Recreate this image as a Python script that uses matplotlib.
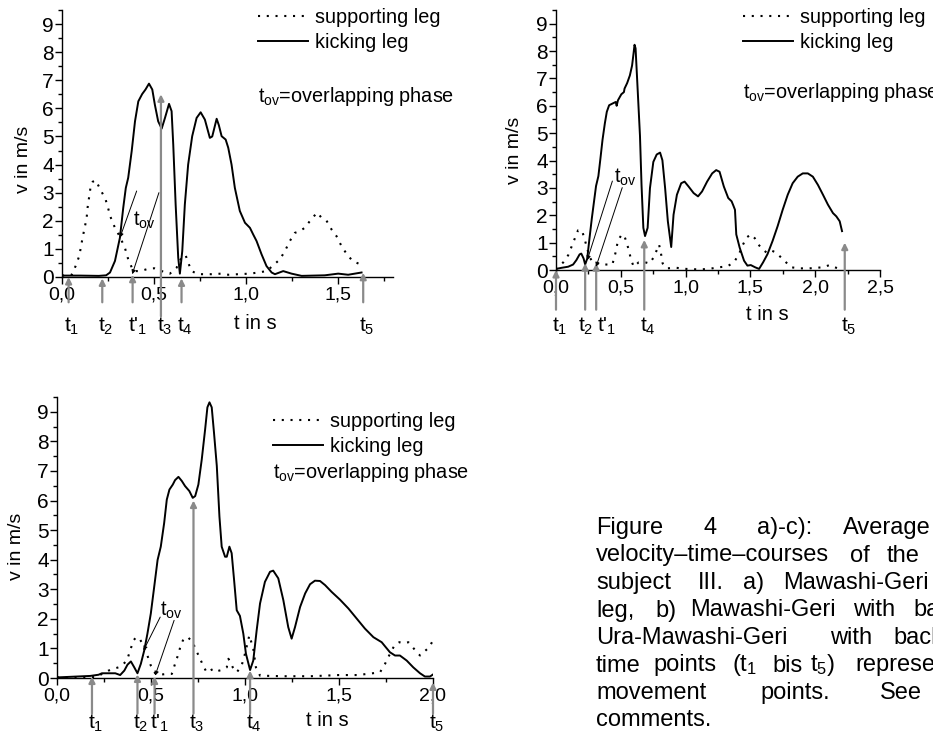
import matplotlib
matplotlib.use("Agg")
import matplotlib.pyplot as plt
from matplotlib.ticker import MultipleLocator, FuncFormatter

plt.rcParams["font.family"] = ["Liberation Sans", "DejaVu Sans"]
plt.rcParams["mathtext.fontset"] = "custom"
plt.rcParams["mathtext.rm"] = "Liberation Sans"
plt.rcParams["mathtext.default"] = "regular"

# ---- panel a) Mawashi-Geri, front leg ----
a_kick_t = [0.0, 0.1, 0.2, 0.24, 0.261, 0.288, 0.315, 0.333, 0.347, 0.36, 0.379, 0.397, 0.415,
            0.436, 0.454, 0.473, 0.491, 0.505, 0.523, 0.542, 0.56, 0.582, 0.596, 0.605, 0.618,
            0.632, 0.641, 0.654, 0.668, 0.686, 0.708, 0.732, 0.754, 0.777, 0.804, 0.817, 0.841,
            0.853, 0.868, 0.89, 0.904, 0.922, 0.94, 0.967, 0.995, 1.022, 1.04, 1.058, 1.085,
            1.112, 1.14, 1.158, 1.203, 1.248, 1.303, 1.429, 1.502, 1.556, 1.629]
a_kick_v = [0.05, 0.05, 0.04, 0.06, 0.16, 0.57, 1.4, 2.46, 3.17, 3.53, 4.48, 5.54, 6.25,
            6.51, 6.67, 6.88, 6.67, 6.13, 5.54, 5.28, 5.66, 6.16, 5.9, 4.71, 2.58,
            0.69, 0.12, 0.92, 2.58, 4.0, 5.01, 5.66, 5.86, 5.6, 4.95, 5.0, 5.63,
            5.4, 5.01, 4.89, 4.6, 4.0, 3.17, 2.35, 1.93, 1.75, 1.51, 1.28, 0.81,
            0.39, 0.16, 0.1, 0.21, 0.12, 0.04, 0.06, 0.12, 0.08, 0.16]
a_sup_t = [0.0, 0.03, 0.053, 0.074, 0.094, 0.112, 0.125, 0.134, 0.139, 0.147, 0.156, 0.167,
           0.183, 0.21, 0.237, 0.266, 0.288, 0.315, 0.342, 0.36, 0.388, 0.415, 0.442, 0.473,
           0.502, 0.542, 0.587, 0.623, 0.65, 0.672, 0.686, 0.705, 0.74, 0.813, 0.868, 0.904,
           0.958, 1.022, 1.067, 1.112, 1.145, 1.185, 1.212, 1.239, 1.266, 1.293, 1.32, 1.348,
           1.371, 1.388, 1.411, 1.438, 1.466, 1.493, 1.52, 1.547, 1.58, 1.629]
a_sup_v = [0.05, 0.06, 0.08, 0.39, 0.75, 1.4, 1.81, 2.1, 2.46, 2.82, 3.23, 3.39,
           3.44, 3.1, 2.76, 2.1, 1.75, 1.43, 1.04, 0.63, 0.21, 0.21, 0.24, 0.3,
           0.31, 0.21, 0.12, 0.33, 0.69, 0.78, 0.51, 0.21, 0.1, 0.1, 0.12, 0.08,
           0.1, 0.12, 0.16, 0.21, 0.39, 0.63, 0.92, 1.28, 1.57, 1.63, 1.75, 1.99,
           2.17, 2.29, 2.11, 2.01, 1.69, 1.45, 1.1, 0.83, 0.57, 0.43]
a_marks = ["t$_1$", "t$_2$", "t'$_1$", "t$_3$", "t$_4$", "t$_5$"]
a_mark_t = [0.036, 0.219, 0.384, 0.538, 0.65, 1.638]
a_mark_tip = [0.0, -0.05, 0.08, 6.5, -0.05, 0.15]

# ---- panel b) Mawashi-Geri, back leg ----
b_kick_t = [0.0, 0.043, 0.094, 0.132, 0.157, 0.182, 0.195, 0.213, 0.225, 0.241, 0.258, 0.276,
            0.296, 0.309, 0.327, 0.342, 0.359, 0.377, 0.392, 0.41, 0.435, 0.461, 0.468, 0.478,
            0.504, 0.524, 0.529, 0.549, 0.57, 0.587, 0.598, 0.606, 0.614, 0.63, 0.648, 0.66,
            0.674, 0.687, 0.707, 0.725, 0.751, 0.777, 0.803, 0.821, 0.842, 0.863, 0.889, 0.907,
            0.933, 0.966, 0.992, 1.023, 1.062, 1.096, 1.127, 1.166, 1.205, 1.236, 1.262, 1.295,
            1.329, 1.355, 1.368, 1.381, 1.391, 1.417, 1.451, 1.477, 1.503, 1.536, 1.567, 1.598,
            1.632, 1.671, 1.71, 1.749, 1.788, 1.826, 1.865, 1.904, 1.943, 1.982, 2.021, 2.06,
            2.098, 2.137, 2.163, 2.189, 2.207]
b_kick_v = [0.04, 0.08, 0.12, 0.2, 0.36, 0.57, 0.6, 0.42, 0.2, 0.42, 1.14, 1.87,
            2.6, 3.07, 3.43, 4.04, 4.76, 5.36, 5.78, 6.02, 6.08, 6.14, 6.0, 6.2,
            6.42, 6.5, 6.63, 6.83, 7.11, 7.47, 7.9, 8.23, 8.1, 6.6, 4.9, 3.1,
            1.54, 1.24, 1.54, 2.99, 3.95, 4.22, 4.29, 4.01, 2.99, 1.78, 0.84, 2.02,
            2.75, 3.17, 3.23, 3.05, 2.81, 2.69, 2.87, 3.23, 3.53, 3.65, 3.59, 3.05,
            2.63, 2.51, 2.36, 2.2, 1.3, 0.82, 0.34, 0.16, 0.18, 0.1, 0.04, 0.28,
            0.58, 1.06, 1.6, 2.2, 2.75, 3.17, 3.41, 3.53, 3.53, 3.41, 3.11, 2.75,
            2.39, 2.08, 1.96, 1.78, 1.42]
b_sup_t = [0.0, 0.056, 0.094, 0.124, 0.144, 0.17, 0.2, 0.22, 0.241, 0.258, 0.284, 0.322,
           0.367, 0.41, 0.435, 0.461, 0.478, 0.504, 0.524, 0.544, 0.562, 0.58, 0.6, 0.638,
           0.671, 0.722, 0.752, 0.777, 0.795, 0.808, 0.823, 0.853, 0.929, 1.005, 1.106, 1.179,
           1.256, 1.321, 1.373, 1.412, 1.438, 1.469, 1.503, 1.534, 1.56, 1.593, 1.624, 1.658,
           1.697, 1.736, 1.775, 1.813, 1.878, 1.956, 2.06, 2.111, 2.15, 2.189]
b_sup_v = [0.02, 0.28, 0.54, 0.9, 1.14, 1.45, 1.45, 1.14, 0.78, 0.48, 0.28, 0.24,
           0.2, 0.2, 0.2, 0.66, 1.08, 1.27, 1.29, 1.02, 0.72, 0.36, 0.12, 0.28,
           0.3, 0.24, 0.45, 0.72, 0.93, 0.66, 0.24, 0.06, 0.08, 0.04, 0.02, 0.04,
           0.1, 0.13, 0.28, 0.58, 0.88, 1.18, 1.3, 1.16, 0.94, 0.76, 0.64, 0.72,
           0.64, 0.46, 0.28, 0.1, 0.06, 0.06, 0.1, 0.18, 0.1, 0.04]
b_marks = ["t$_1$", "t$_2$", "t'$_1$", "t$_4$", "t$_5$"]
b_mark_t = [0.0, 0.225, 0.31, 0.681, 2.228]
b_mark_tip = [0.0, 0.25, 0.25, 1.1, 1.0]

# ---- panel c) Ura-Mawashi-Geri, back leg ----
c_kick_t = [0.0, 0.106, 0.177, 0.221, 0.239, 0.274, 0.31, 0.336, 0.358, 0.375, 0.393, 0.411,
            0.428, 0.446, 0.464, 0.481, 0.499, 0.517, 0.535, 0.552, 0.57, 0.584, 0.598, 0.616,
            0.628, 0.646, 0.664, 0.681, 0.704, 0.722, 0.735, 0.752, 0.77, 0.788, 0.8, 0.811,
            0.823, 0.835, 0.85, 0.864, 0.876, 0.894, 0.903, 0.917, 0.929, 0.942, 0.956, 0.973,
            0.991, 1.005, 1.027, 1.044, 1.062, 1.08, 1.106, 1.133, 1.15, 1.177, 1.204, 1.23,
            1.248, 1.266, 1.293, 1.32, 1.346, 1.372, 1.399, 1.426, 1.461, 1.505, 1.55, 1.594,
            1.638, 1.683, 1.727, 1.745, 1.771, 1.798, 1.824, 1.86, 1.895, 1.931, 1.957, 1.984,
            2.005]
c_kick_v = [0.02, 0.05, 0.07, 0.11, 0.16, 0.16, 0.16, 0.1, 0.25, 0.45, 0.56, 0.36,
            0.16, 0.48, 0.93, 1.5, 2.18, 3.08, 3.99, 4.44, 5.24, 6.03, 6.37, 6.54,
            6.69, 6.8, 6.66, 6.49, 6.32, 6.09, 6.15, 6.54, 7.39, 8.41, 9.15, 9.32,
            9.15, 8.3, 7.17, 5.46, 4.44, 4.1, 4.1, 4.44, 4.22, 3.31, 2.29, 2.1,
            1.5, 0.82, 0.27, 0.59, 1.61, 2.52, 3.25, 3.59, 3.63, 3.37, 2.63, 1.72,
            1.33, 1.72, 2.4, 2.86, 3.17, 3.29, 3.28, 3.14, 2.91, 2.65, 2.35, 2.01,
            1.67, 1.38, 1.21, 1.07, 0.87, 0.76, 0.76, 0.59, 0.36, 0.16, 0.05, 0.05,
            0.14]
c_sup_t = [0.0, 0.2, 0.221, 0.248, 0.274, 0.3, 0.327, 0.354, 0.372, 0.389, 0.407, 0.421,
           0.439, 0.46, 0.481, 0.499, 0.522, 0.549, 0.584, 0.611, 0.628, 0.646, 0.658, 0.676,
           0.699, 0.722, 0.74, 0.758, 0.775, 0.796, 0.814, 0.832, 0.85, 0.876, 0.903, 0.912,
           0.935, 0.956, 0.982, 1.0, 1.023, 1.044, 1.058, 1.08, 1.2, 1.35, 1.5, 1.6,
           1.718, 1.745, 1.762, 1.78, 1.798, 1.821, 1.851, 1.869, 1.904, 1.931, 1.957, 1.98,
           1.998]
c_sup_v = [0.02, 0.03, 0.08, 0.16, 0.25, 0.31, 0.36, 0.48, 0.59, 0.93, 1.27, 1.38,
           1.33, 1.1, 0.76, 0.42, 0.16, 0.11, 0.14, 0.14, 0.48, 0.82, 1.1, 1.36,
           1.36, 1.21, 0.93, 0.7, 0.45, 0.19, 0.25, 0.31, 0.23, 0.27, 0.36, 0.65,
           0.36, 0.19, 0.42, 0.82, 1.44, 0.99, 0.36, 0.08, 0.06, 0.06, 0.1, 0.1,
           0.19, 0.48, 0.7, 0.93, 1.13, 1.21, 1.18, 1.21, 0.95, 0.76, 0.91, 1.04,
           1.25]
c_marks = ["t$_1$", "t$_2$", "t'$_1$", "t$_3$", "t$_4$", "t$_5$"]
c_mark_t = [0.186, 0.428, 0.519, 0.726, 1.027, 2.0]
c_mark_tip = [0.05, 0.12, 0.05, 6.0, 0.25, -0.15]

legend_labels = ["supporting leg", "kicking leg"]
tov_label = "t$_{ov}$=overlapping phase"

# caption words are cut at the right edge, as in the source page
caption = [
    [("Figure", 596), ("4", 703), ("a)-c):", 757), ("Average", 843)],
    [("velocity\u2013time\u2013courses", 596), ("of", 850), ("the", 887)],
    [("subject", 596), ("III.", 698), ("a)", 743), ("Mawashi-Geri", 783)],
    [("leg,", 596), ("b)", 655), ("Mawashi-Geri", 690), ("with", 853), ("back", 913)],
    [("Ura-Mawashi-Geri", 596), ("with", 830), ("back", 893)],
    [("time", 596), ("points", 653), ("(t$_1$", 732), ("bis", 772), ("t$_5$)", 810),
     ("represent", 855)],
    [("movement", 596), ("points.", 760), ("See", 880)],
    [("comments.", 596)],
]

W, H = 933, 738
GRAY = "#8a8a8a"
fig = plt.figure(figsize=(W / 100, H / 100), dpi=100)


def comma(x, pos):
    return f"{x:.1f}".replace(".", ",")


def make_axes(left, right, top, bottom):
    return fig.add_axes([left / W, 1 - bottom / H, (right - left) / W, (bottom - top) / H])


def draw_panel(ax, kt, kv, st, sv, xmax, marks, mark_t, mark_tip, arrow_base, label_v,
               label_dx, tlabel_pos, ylabel_xy, tov):
    sup, = ax.plot(st, sv, color="black", lw=1.5, linestyle=(0, (1, 3.2)))
    kick, = ax.plot(kt, kv, color="black", lw=1.4)
    ax.set_xlim(0, xmax)
    ax.set_ylim(0, 9.5)
    ax.xaxis.set_major_locator(MultipleLocator(0.5))
    ax.xaxis.set_minor_locator(MultipleLocator(0.25))
    ax.xaxis.set_major_formatter(FuncFormatter(comma))
    ax.set_yticks(range(10))
    ax.yaxis.set_minor_locator(MultipleLocator(0.5))
    ax.spines["top"].set_visible(False)
    ax.spines["right"].set_visible(False)
    for s in ("left", "bottom"):
        ax.spines[s].set_linewidth(1.0)
    ax.tick_params(which="major", direction="out", length=5, width=1)
    ax.tick_params(which="minor", direction="out", length=3, width=1)
    ax.tick_params(axis="x", labelsize=14, pad=2)
    ax.tick_params(axis="y", labelsize=15, pad=1)
    ax.set_ylabel("v in m/s", fontsize=14)
    ax.yaxis.set_label_coords(*ylabel_xy)

    for lab, t, tip in zip(marks, mark_t, mark_tip):
        base = arrow_base.get(lab, arrow_base["default"])
        ax.annotate("", xy=(t, tip), xytext=(t, base), annotation_clip=False,
                    arrowprops=dict(arrowstyle="-|>", color=GRAY, lw=1.6,
                                    mutation_scale=9, shrinkA=0, shrinkB=0))
        dx = label_dx.get(lab, -3)
        ax.annotate(lab, xy=(t, label_v), xytext=(dx, 0), textcoords="offset points",
                    ha="left", va="center", fontsize=15, annotation_clip=False)
    ax.text(tlabel_pos[0], tlabel_pos[1], "t in s", ha="center", va="center",
            fontsize=14.5, clip_on=False)

    (tx, ty), lines = tov
    ax.text(tx, ty, "t$_{ov}$", fontsize=14.5, ha="left", va="center")
    for (x0, y0), (x1, y1) in lines:
        ax.annotate("", xy=(x1, y1), xytext=(x0, y0),
                    arrowprops=dict(arrowstyle="-|>", color="black", lw=0.7,
                                    mutation_scale=6, shrinkA=0, shrinkB=0))
    return sup, kick


def add_legend(ax, handles, x, y, tov_y):
    ax.legend(handles, legend_labels, loc="upper left", bbox_to_anchor=(x / W, 1 - y / H),
              bbox_transform=fig.transFigure, frameon=False, fontsize=14.3, borderpad=0,
              borderaxespad=0, handlelength=2.5, handletextpad=0.35, labelspacing=0.3)
    fig.text(x / W, 1 - tov_y / H, tov_label, fontsize=14.3, ha="left", va="center")


ax_a = make_axes(62, 393, 10, 277)
h = draw_panel(ax_a, a_kick_t, a_kick_v, a_sup_t, a_sup_v, 1.8, a_marks, a_mark_t, a_mark_tip,
               {"default": -0.9, "t$_3$": -1.4}, -1.75, {}, (1.05, -1.65), (-30 / 331, 0.44),
               ((0.385, 2.0), [((0.406, 3.06), (0.315, 1.4)), ((0.527, 3.0), (0.382, 0.1))]))
add_legend(ax_a, h, 258, 8, 97)

ax_b = make_axes(556, 880, 10, 270)
h = draw_panel(ax_b, b_kick_t, b_kick_v, b_sup_t, b_sup_v, 2.5, b_marks, b_mark_t, b_mark_tip,
               {"default": -1.45}, -2.05, {"t$_2$": -5, "t'$_1$": 0.5}, (1.63, -1.62),
               (-33 / 324, 0.46),
               ((0.45, 3.4), [((0.435, 3.25), (0.241, 0.36)), ((0.511, 3.01), (0.309, 0.12))]))
add_legend(ax_b, h, 743, 8, 93)

ax_c = make_axes(57, 433, 397, 678)
h = draw_panel(ax_c, c_kick_t, c_kick_v, c_sup_t, c_sup_v, 2.0, c_marks, c_mark_t, c_mark_tip,
               {"default": -1.2}, -1.55, {}, (1.44, -1.42), (-32 / 376, 0.47),
               ((0.55, 2.3), [((0.549, 2.06), (0.46, 0.93)), ((0.623, 1.95), (0.522, 0.08))]))
add_legend(ax_c, h, 273, 412, 472)

for i, line in enumerate(caption):
    y = 528 + 27.5 * i
    for word, x in line:
        fig.text(x / W, 1 - y / H, word, fontsize=17, ha="left", va="center")

fig.savefig("out.png", dpi=100)
